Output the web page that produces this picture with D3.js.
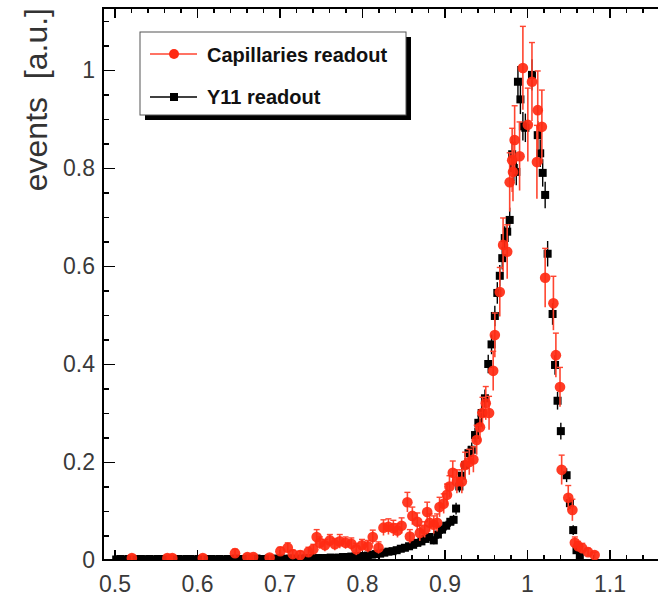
<!DOCTYPE html>
<html lang="en">
  <head>
    <meta charset="utf-8">
    <title>events vs ratio</title>
    <script src="https://d3js.org/d3.v7.min.js"></script>
    <style>
      body { margin: 0; background: #fff; }
      .axis path { display: none; }
      .axis line { stroke: #000; stroke-width: 1.3; shape-rendering: crispEdges; }
      .axis text {
        font-family: "Liberation Sans", Arial, sans-serif;
        font-size: 23px;
        fill: #3a3a3a;
      }
    </style>
  </head>
  <body>
    <script>
    // ---- data: [x, y, error] ----
    let capillaries = [
      [0.521,0.004,0.006],[0.564,0.004,0.006],[0.570,0.004,0.006],[0.607,0.004,0.006],
      [0.646,0.014,0.008],[0.661,0.006,0.006],[0.668,0.006,0.006],[0.688,0.005,0.006],
      [0.701,0.018,0.008],[0.710,0.025,0.010],[0.716,0.012,0.008],[0.725,0.010,0.008],
      [0.735,0.016,0.010],[0.741,0.022,0.010],[0.745,0.047,0.015],[0.749,0.035,0.012],
      [0.755,0.030,0.012],[0.761,0.040,0.012],[0.767,0.032,0.012],[0.773,0.038,0.014],
      [0.780,0.035,0.012],[0.787,0.033,0.012],[0.793,0.022,0.012],[0.800,0.030,0.012],
      [0.807,0.028,0.012],[0.813,0.047,0.014],[0.820,0.025,0.012],[0.826,0.066,0.016],
      [0.832,0.068,0.016],[0.838,0.065,0.016],[0.843,0.060,0.014],[0.848,0.070,0.016],
      [0.855,0.118,0.020],[0.858,0.048,0.014],[0.861,0.090,0.018],[0.867,0.078,0.018],
      [0.870,0.055,0.016],[0.876,0.062,0.016],[0.879,0.098,0.020],[0.882,0.076,0.018],
      [0.887,0.072,0.018],[0.891,0.076,0.018],[0.894,0.108,0.020],[0.899,0.115,0.020],
      [0.903,0.133,0.022],[0.906,0.150,0.022],[0.910,0.178,0.024],[0.915,0.160,0.024],
      [0.921,0.160,0.024],[0.925,0.194,0.026],[0.930,0.200,0.026],[0.935,0.205,0.026],
      [0.939,0.245,0.030],[0.943,0.271,0.030],[0.946,0.300,0.032],[0.950,0.320,0.034],
      [0.954,0.300,0.034],[0.959,0.386,0.040],[0.961,0.459,0.045],[0.967,0.547,0.050],
      [0.971,0.643,0.055],[0.976,0.629,0.055],[0.979,0.771,0.060],[0.982,0.816,0.065],
      [0.983,0.792,0.060],[0.985,0.857,0.070],[0.991,0.824,0.070],[0.995,1.004,0.085],
      [1.001,0.888,0.075],[1.006,0.976,0.080],[1.012,0.812,0.075],[1.013,0.918,0.080],
      [1.018,0.884,0.075],[1.022,0.576,0.060],[1.032,0.524,0.055],[1.035,0.418,0.045],
      [1.040,0.353,0.040],[1.042,0.184,0.030],[1.050,0.127,0.025],[1.055,0.102,0.022],
      [1.058,0.035,0.012],[1.062,0.028,0.010],[1.067,0.024,0.010],[1.074,0.016,0.008],
      [1.082,0.010,0.006]
    ];

    let y11 = [
      [0.502,0.001,0.003],[0.507,0.002,0.003],[0.512,0.001,0.003],[0.517,0.002,0.003],
      [0.522,0.002,0.003],[0.527,0.001,0.003],[0.532,0.002,0.003],[0.537,0.001,0.003],
      [0.542,0.002,0.003],[0.547,0.001,0.003],[0.552,0.002,0.003],[0.557,0.002,0.003],
      [0.562,0.001,0.003],[0.567,0.002,0.003],[0.572,0.001,0.003],[0.577,0.002,0.003],
      [0.582,0.001,0.003],[0.587,0.002,0.003],[0.592,0.002,0.003],[0.597,0.001,0.003],
      [0.602,0.002,0.003],[0.607,0.001,0.003],[0.612,0.002,0.003],[0.617,0.002,0.003],
      [0.622,0.001,0.003],[0.627,0.002,0.003],[0.632,0.001,0.003],[0.637,0.002,0.003],
      [0.642,0.002,0.003],[0.647,0.003,0.003],[0.652,0.002,0.003],[0.657,0.001,0.003],
      [0.662,0.002,0.003],[0.667,0.002,0.003],[0.672,0.003,0.003],[0.677,0.002,0.003],
      [0.682,0.002,0.003],[0.687,0.003,0.003],[0.692,0.002,0.003],[0.697,0.003,0.003],
      [0.702,0.003,0.003],[0.707,0.002,0.003],[0.712,0.003,0.003],[0.717,0.003,0.003],
      [0.722,0.002,0.003],[0.727,0.003,0.003],[0.732,0.003,0.003],[0.737,0.004,0.003],
      [0.742,0.003,0.003],[0.747,0.004,0.003],[0.752,0.004,0.003],[0.757,0.004,0.003],
      [0.762,0.005,0.003],[0.767,0.004,0.003],[0.772,0.005,0.003],[0.777,0.006,0.003],
      [0.782,0.006,0.003],[0.787,0.007,0.003],[0.792,0.007,0.003],[0.797,0.008,0.004],
      [0.802,0.008,0.004],[0.807,0.009,0.004],[0.812,0.011,0.004],[0.817,0.012,0.004],
      [0.822,0.013,0.004],[0.827,0.015,0.004],[0.832,0.017,0.004],[0.837,0.018,0.004],
      [0.842,0.020,0.005],[0.847,0.023,0.005],[0.852,0.025,0.005],[0.857,0.028,0.005],
      [0.862,0.031,0.005],[0.867,0.035,0.006],[0.872,0.038,0.006],[0.877,0.043,0.006],
      [0.882,0.047,0.006],[0.887,0.040,0.006],[0.892,0.052,0.007],[0.897,0.062,0.007],
      [0.902,0.070,0.008],[0.907,0.078,0.008],[0.911,0.082,0.008],[0.914,0.105,0.010],
      [0.918,0.150,0.010],[0.921,0.172,0.012],[0.925,0.194,0.012],[0.929,0.218,0.012],
      [0.933,0.225,0.013],[0.937,0.255,0.013],[0.941,0.280,0.014],[0.945,0.300,0.015],
      [0.949,0.330,0.016],[0.953,0.400,0.017],[0.957,0.440,0.018],[0.961,0.498,0.019],
      [0.964,0.545,0.020],[0.967,0.580,0.020],[0.970,0.616,0.021],[0.973,0.657,0.022],
      [0.976,0.670,0.022],[0.979,0.694,0.023],[0.982,0.828,0.025],[0.984,0.800,0.025],
      [0.987,0.792,0.025],[0.989,0.976,0.030],[0.992,0.940,0.028],[0.995,0.885,0.027],
      [0.998,0.882,0.027],[1.006,0.990,0.030],[1.013,0.867,0.027],[1.016,0.830,0.026],
      [1.019,0.790,0.026],[1.022,0.745,0.025],[1.025,0.625,0.024],[1.031,0.502,0.020],
      [1.034,0.398,0.018],[1.037,0.325,0.016],[1.041,0.263,0.015],[1.048,0.173,0.012],
      [1.052,0.116,0.010],[1.056,0.061,0.008],[1.060,0.020,0.005],[1.064,0.006,0.004]
    ];

    let xMajor = [0.5, 0.6, 0.7, 0.8, 0.9, 1.0, 1.1];
    let yMajor = [0, 0.2, 0.4, 0.6, 0.8, 1];
    let legendLabels = ["Capillaries readout", "Y11 readout"];

    let w = 658;
    let h = 596;

    let svg = d3.select("body")
                .append("svg")
                .attr("width", w)
                .attr("height", h);

    // scales (plot frame runs off the right edge, like the picture)
    let xScale = d3.scaleLinear().domain([0.486, 1.16]).range([103, 659]);
    let yScale = d3.scaleLinear().domain([0, 1.1265]).range([560, 8]);

    let xMinor = d3.range(0.5, 1.17, 0.02);
    let yMinor = d3.range(0, 1.12, 0.05);

    svg.append("defs").append("clipPath").attr("id", "plot")
       .append("rect")
       .attr("x", xScale(0.486)).attr("y", yScale(1.1265))
       .attr("width", w - 103).attr("height", 552);

    // bottom axis, ticks pointing up
    svg.append("g").attr("class", "axis")
       .attr("transform", "translate(0," + yScale(0) + ")")
       .call(d3.axisBottom(xScale).tickValues(xMinor).tickSize(-5).tickFormat(""));
    svg.append("g").attr("class", "axis")
       .attr("transform", "translate(0," + yScale(0) + ")")
       .call(d3.axisBottom(xScale).tickValues(xMajor).tickSize(-10).tickPadding(16)
               .tickFormat(d => d3.format("")(d)));

    // top frame ticks
    svg.append("g").attr("class", "axis")
       .attr("transform", "translate(0," + yScale(1.1265) + ")")
       .call(d3.axisTop(xScale).tickValues(xMinor).tickSize(-5).tickFormat(""));
    svg.append("g").attr("class", "axis")
       .attr("transform", "translate(0," + yScale(1.1265) + ")")
       .call(d3.axisTop(xScale).tickValues(xMajor).tickSize(-10).tickFormat(""));

    // left axis, ticks pointing right
    svg.append("g").attr("class", "axis")
       .attr("transform", "translate(" + xScale(0.486) + ",0)")
       .call(d3.axisLeft(yScale).tickValues(yMinor).tickSize(-6).tickFormat(""));
    svg.append("g").attr("class", "axis")
       .attr("transform", "translate(" + xScale(0.486) + ",0)")
       .call(d3.axisLeft(yScale).tickValues(yMajor).tickSize(-12).tickPadding(8)
               .tickFormat(d => d3.format("")(d)));

    // frame lines
    svg.append("path")
       .attr("d", "M" + w + "," + yScale(1.1265) + "H" + xScale(0.486) + "V" + yScale(0) + "H" + w)
       .attr("fill", "none").attr("stroke", "#000").attr("stroke-width", 2);

    let plot = svg.append("g").attr("clip-path", "url(#plot)");

    // Y11 readout: black squares
    let blk = plot.append("g");
    blk.selectAll("line.eb").data(y11).enter().append("line")
       .attr("x1", d => xScale(d[0])).attr("x2", d => xScale(d[0]))
       .attr("y1", d => yScale(d[1] - d[2]) + 1).attr("y2", d => yScale(d[1] + d[2]) - 1)
       .attr("stroke", "#000").attr("stroke-width", 1.4);
    blk.selectAll("rect").data(y11).enter().append("rect")
       .attr("x", d => xScale(d[0]) - 4).attr("y", d => yScale(d[1]) - 4)
       .attr("width", 8).attr("height", 8)
       .attr("fill", "#000");

    // Capillaries readout: red circles with error bars
    let red = plot.append("g");
    red.selectAll("line.eb").data(capillaries).enter().append("line")
       .attr("x1", d => xScale(d[0])).attr("x2", d => xScale(d[0]))
       .attr("y1", d => yScale(d[1] - d[2])).attr("y2", d => yScale(d[1] + d[2]))
       .attr("stroke", "#ff4530").attr("stroke-width", 1.6);
    red.selectAll("line.cap").data(capillaries).enter().append("line")
       .attr("x1", d => xScale(d[0]) - 3).attr("x2", d => xScale(d[0]) + 3)
       .attr("y1", d => yScale(d[1] + d[2])).attr("y2", d => yScale(d[1] + d[2]))
       .attr("stroke", "#ff4530").attr("stroke-width", 1.4);
    red.selectAll("circle").data(capillaries).enter().append("circle")
       .attr("cx", d => xScale(d[0])).attr("cy", d => yScale(d[1]))
       .attr("r", 5.3)
       .attr("fill", "#ff2a12").attr("fill-opacity", 0.92);

    // legend
    let lg = svg.append("g");
    lg.append("rect").attr("x", 145).attr("y", 37).attr("width", 266).attr("height", 83).attr("fill", "#000");
    lg.append("rect").attr("x", 140).attr("y", 32).attr("width", 266).attr("height", 83)
      .attr("fill", "#fff").attr("stroke", "#555").attr("stroke-width", 1);

    lg.append("line").attr("x1", 150).attr("x2", 197).attr("y1", 54).attr("y2", 54)
      .attr("stroke", "#ff4530").attr("stroke-width", 1.5);
    lg.append("circle").attr("cx", 174).attr("cy", 54).attr("r", 5).attr("fill", "#ff2a12");
    lg.append("line").attr("x1", 150).attr("x2", 197).attr("y1", 97).attr("y2", 97)
      .attr("stroke", "#000").attr("stroke-width", 1.5);
    lg.append("rect").attr("x", 170).attr("y", 93).attr("width", 8).attr("height", 8).attr("fill", "#000");

    lg.selectAll("text").data(legendLabels).enter().append("text")
      .attr("x", 207).attr("y", (d, i) => 62 + i * 42)
      .attr("font-family", "'Liberation Sans', Arial, sans-serif")
      .attr("font-weight", "bold").attr("font-size", "20px")
      .attr("fill", "#111")
      .text(d => d);

    // y title
    svg.append("text")
       .attr("transform", "translate(47,8) rotate(-90)")
       .attr("text-anchor", "end")
       .attr("font-family", "'Liberation Sans', Arial, sans-serif")
       .attr("font-size", "32px")
       .attr("fill", "#333")
       .attr("xml:space", "preserve")
       .text("events  [a.u.]");
    </script>
  </body>
</html>
